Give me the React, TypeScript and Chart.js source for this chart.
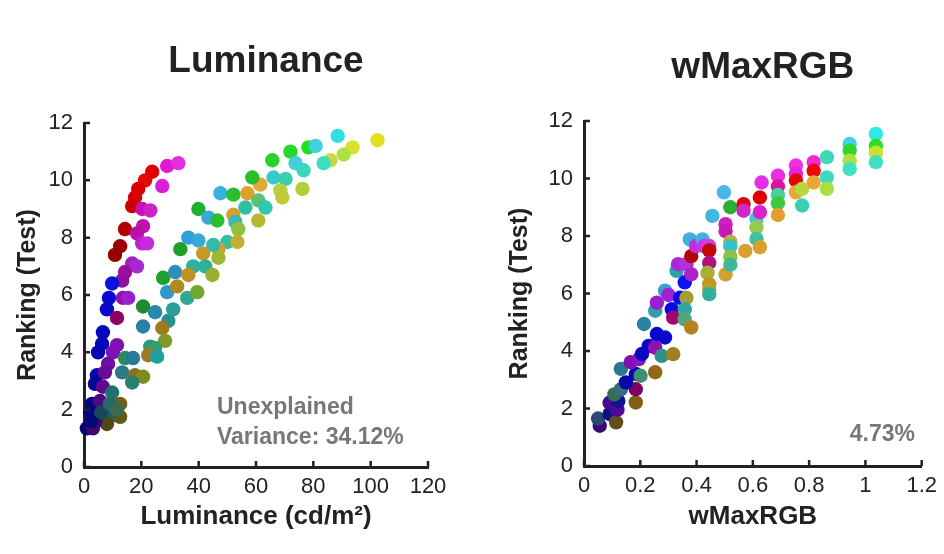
import { useEffect, useRef } from "react";
import Chart from "chart.js/auto";

Chart.defaults.font.family = "'Liberation Sans', Arial, Helvetica, sans-serif";

// ---- Luminance panel ----
const lumX = [
  29, 32.9, 23.8, 21.3, 27.3, 18.9, 17.8, 16.8, 20.3, 23.1, 20.6, 14.3, 18.5, 20.3, 22, 12.6, 10.8,
  16.8, 18.5, 14.3, 13.3, 9.8, 13.6, 15.4, 8.7, 8, 11.5, 6.6, 6.3, 11.5, 4.9, 10.1, 8.4, 4.5, 7.3,
  3.8, 6.6, 9.8, 2.8, 5.6, 12.6, 2.1, 10.1, 12.6, 1.0, 3.1, 8.0, 4, 2.5, 6, 9, 11.5,
  14.3, 17.1, 13.3, 17.8, 20.6, 16.8, 20.6, 24.8, 20.6, 29.4, 27.3, 28.3, 23.1, 24.8, 22.4, 25.5,
  27.6, 29, 31.8, 32.5, 31.1, 36, 39.5, 33.6, 36.4, 39.9, 41.6, 38.1, 36.4, 42.3, 44.8, 39.9, 43.4,
  46.5, 47.6, 52.1, 57.0, 61.5, 58.7, 56.3, 60.8, 63.3, 60.8, 52.1, 52.8, 53.8, 50, 53.5, 46.9,
  46.9, 45.1, 65.7, 72, 78.3, 80.8, 88.5, 102.4, 93.7, 90.6, 86, 83.6, 76.6, 73.8, 66.1, 70.3, 68.5,
  69.2, 76.2,
];
const lumY = [
  10.5, 10.6, 10.3, 10.0, 9.8, 9.7, 9.4, 9.1, 9.0, 8.95, 8.4, 8.3, 8.15, 7.8, 7.8, 7.7, 7.4,
  7.1, 7.0, 6.8, 6.5, 6.4, 5.9, 5.9, 5.9, 5.5, 5.2, 4.7, 4.3, 4.25, 4.0, 4.0, 3.6, 3.2, 3.3,
  2.9, 2.8, 2.6, 2.2, 2.3, 2.2, 1.9, 1.8, 1.75, 1.35, 1.35, 1.5, 1.6, 1.6, 1.9, 2.2, 2.0,
  3.8, 3.8, 3.3, 3.2, 3.15, 2.95, 5.6, 5.4, 4.9, 5.1, 4.85, 4.4, 4.2, 4.15, 3.9, 3.85,
  6.6, 6.1, 6.8, 6.3, 5.5, 5.9, 6.1, 7.6, 8.0, 7.9, 7.45, 7.0, 6.7, 7.0, 6.7, 9.0, 8.7,
  8.6, 9.55, 9.5, 9.55, 9.85, 10.1, 9.05, 9.3, 9.05, 8.6, 8.8, 8.55, 8.3, 7.85, 7.85, 7.6,
  7.3, 7.75, 10.7, 11.0, 11.15, 11.2, 11.55, 11.4, 11.15, 10.9, 10.7, 10.6, 10.35, 10.6, 10.1, 10.05, 9.65,
  9.4, 9.7,
];
const lumColors = [
  "#e01ad0", "#e030e0", "#e00000", "#e40808", "#d820d8", "#dd0000", "#d80000", "#cc0000", "#c810b8",
  "#d020c8", "#c010b0", "#b00000", "#b810a8", "#c020d0", "#c828e0", "#a00000", "#980000",
  "#a020c0", "#a828d0", "#a010a0", "#9010a0", "#0a10e0", "#9010b8", "#9a20c8", "#0808d0", "#0808c8",
  "#900060", "#0808c0", "#0606b8", "#8010b0", "#0808b0", "#8010b8", "#7010a0", "#0606a8", "#6a0898",
  "#05059a", "#600890", "#207070", "#040488", "#500880", "#706020", "#040480", "#206068", "#605818",
  "#040470", "#400870", "#504818", "#3a0870", "#060678", "#184858", "#286868", "#3a6a50",
  "#2a8a60", "#2a7a9a", "#2a7a8a", "#8a7020", "#808a20", "#2a8070", "#208a30", "#2a88aa", "#2a80a8",
  "#2a9090", "#a07820", "#809828", "#2a9a70", "#30a070", "#a07a20", "#20a0a0",
  "#20a030", "#3098c8", "#3090b8", "#b08a20", "#28a098", "#30a890", "#70a830", "#20a028", "#30a0d8",
  "#38a8d8", "#c89828", "#30b0a0", "#c09020", "#30b098", "#98b030", "#20b030", "#38a8e0",
  "#28c030", "#38b0e0", "#28c030", "#e0a030", "#e0a838", "#28c028", "#30c0a0", "#60c070", "#30c8b0",
  "#b8b830", "#d8a030", "#40b8b0", "#90c040", "#30c0a0", "#c0b030", "#d8a030",
  "#a0b830", "#38b8a8", "#28d030", "#28d830", "#20e020", "#40d0e0", "#30e0e0", "#e0e020", "#d8e030",
  "#b0e040", "#c8d840", "#38e0c0", "#38d8c0", "#40d0d8", "#38c8d0", "#38d0b0", "#b8d040",
  "#c0c838", "#b0d038",
];

// ---- wMaxRGB panel ----
const wmX = [
  0.056, 0.05, 0.091, 0.114, 0.119, 0.091, 0.122, 0.108, 0.131, 0.184, 0.184, 0.149, 0.131, 0.184,
  0.201, 0.166, 0.195, 0.206, 0.253, 0.23, 0.253, 0.276, 0.259, 0.288, 0.317, 0.213, 0.253, 0.259,
  0.288, 0.3, 0.312, 0.317, 0.341, 0.364, 0.358, 0.358, 0.381, 0.329, 0.334, 0.364, 0.358, 0.381,
  0.381, 0.376, 0.398, 0.421, 0.427, 0.445, 0.445, 0.445, 0.439, 0.445, 0.445, 0.445, 0.456, 0.497,
  0.52, 0.503, 0.503, 0.503, 0.52, 0.52, 0.52, 0.52, 0.567, 0.567, 0.573, 0.613, 0.613, 0.613,
  0.625, 0.625, 0.625, 0.631, 0.689, 0.689, 0.689, 0.689, 0.689, 0.753, 0.753, 0.753, 0.753, 0.775,
  0.775, 0.816, 0.816, 0.816, 0.863, 0.863, 0.863, 0.944, 0.944, 0.944, 0.944, 1.037, 1.037, 1.037,
  1.037,
];
const wmY = [
  1.4, 1.65, 1.81, 1.52, 1.96, 2.2, 2.26, 2.49, 2.67, 2.21, 2.67, 2.91, 3.38, 3.2,
  3.14, 3.61, 3.72, 3.9, 3.26, 4.18, 4.12, 3.83, 4.59, 4.47, 3.89, 4.94, 5.4, 5.68,
  6.1, 5.95, 5.45, 5.16, 5.85, 5.85, 5.45, 5.1, 4.82, 6.79, 7.02, 7.02, 6.39, 6.67,
  7.3, 7.88, 7.65, 7.88, 7.65, 7.65, 7.5, 7.07, 6.72, 6.32, 6.15, 5.98, 8.7, 9.52,
  9.0, 8.41, 8.17, 6.66, 7.8, 7.64, 7.28, 7.0, 9.11, 8.88, 7.48, 8.6, 8.3, 7.9,
  7.61, 9.34, 8.83, 9.86, 10.1, 9.72, 9.43, 9.14, 8.73, 10.45, 10.16, 9.93, 9.52, 9.64,
  9.06, 10.57, 10.27, 9.86, 10.74, 10.04, 9.64, 11.2, 10.97, 10.62, 10.33, 11.55, 11.14, 10.9,
  10.57,
];
const wmColors = [
  "#3a0870", "#2a4878", "#101088", "#605020", "#500898", "#4a0890", "#101098", "#307050", "#3a6a80",
  "#806018", "#800060", "#0808a8", "#2a7890", "#0808b8", "#409070", "#8010b0", "#8818b8", "#0808c0",
  "#906818", "#0808c8", "#9010b0", "#309088", "#0808d0", "#0808d0", "#a08020", "#2a80a0", "#30a0a8",
  "#9a20d0", "#38a0c8", "#a020d8", "#0808e0", "#a00870", "#0a0ae8", "#a0a030", "#30a8a0", "#50a878",
  "#b88020", "#30a0b0", "#a828d8", "#b030e0", "#1010f0", "#b020c8", "#b00808", "#40b0d8", "#c030e0",
  "#40b0e0", "#c838e8", "#d040d8", "#c00808", "#b01080", "#a8b030", "#c89020", "#b8a030", "#30b098",
  "#40b8e0", "#48b8e8", "#28b030", "#d020c0", "#c818b8", "#d0a030", "#b8b038", "#38c0c8", "#90c048",
  "#40b898", "#d80808", "#d028c8", "#d8a030", "#40c8d0", "#98c850", "#40c0a0", "#d8a030", "#e00000",
  "#e020d0", "#e030e8", "#e830e0", "#e010a0", "#48d0a0", "#40c840", "#e0a030", "#f030e8", "#e820e0",
  "#e00808", "#e8a838", "#b8d840", "#38d0b0", "#f028d0", "#f00808", "#e8a838", "#40d8b8", "#40d8c0",
  "#a8e040", "#40d0e8", "#30d830", "#b0e040", "#40e0c0", "#30e8e8", "#28e028", "#c8e030", "#40e0c0",
];

const lumTicksX = [0, 20, 40, 60, 80, 100, 120];
const wmTicksX = [0, 0.2, 0.4, 0.6, 0.8, 1, 1.2];
const rankTicks = [0, 2, 4, 6, 8, 10, 12];

const INK = "#222222";
const NOTE = "#777777";

interface PanelProps {
  title: string;
  xTitle: string;
  xs: number[];
  ys: number[];
  colors: string[];
  xTicks: number[];
  note: string[];
  noteX: number;
  noteY: number;
  noteAlign: CanvasTextAlign;
  titleTop: number;
  titleBottom: number;
  yWidth: number;
  yTitlePad: number;
  xHeight: number;
  rightPad: number;
}

const Panel: React.FC<PanelProps> = (p) => {
  const canvasRef = useRef<HTMLCanvasElement | null>(null);
  const chartRef = useRef<Chart | null>(null);

  useEffect(() => {
    if (!canvasRef.current) return;
    if (chartRef.current) chartRef.current.destroy();

    const xMax = p.xTicks[p.xTicks.length - 1];
    const step = p.xTicks[1] - p.xTicks[0];

    // MATLAB-style inward tick marks + the grey variance note
    const inwardTicks = {
      id: "inwardTicks",
      afterLayout(chart: Chart) {
        // title sits a little right of the plot centre in the original
        const tb = (chart as any).titleBlock;
        if (tb) {
          tb.left += 10;
          tb.right += 10;
        }
      },
      afterDraw(chart: Chart) {
        const { ctx, chartArea } = chart;
        const sx = chart.scales.x;
        const sy = chart.scales.y;
        ctx.save();
        ctx.strokeStyle = INK;
        ctx.lineWidth = 2.5;
        ctx.beginPath();
        p.xTicks.forEach((t) => {
          const px = sx.getPixelForValue(t);
          ctx.moveTo(px, chartArea.bottom);
          ctx.lineTo(px, chartArea.bottom - 6);
        });
        rankTicks.forEach((t) => {
          const py = sy.getPixelForValue(t);
          ctx.moveTo(chartArea.left, py);
          ctx.lineTo(chartArea.left + 6, py);
        });
        ctx.stroke();

        ctx.fillStyle = NOTE;
        ctx.font = "bold 23px 'Liberation Sans', Arial, sans-serif";
        ctx.textAlign = p.noteAlign;
        ctx.textBaseline = "middle";
        p.note.forEach((line, i) => {
          ctx.fillText(line, p.noteX, p.noteY + i * 30);
        });
        ctx.restore();
      },
    };

    chartRef.current = new Chart(canvasRef.current, {
      type: "scatter",
      data: {
        datasets: [
          {
            data: p.xs.map((x, i) => ({ x, y: p.ys[i] })),
            pointBackgroundColor: p.colors,
            pointBorderWidth: 0,
            pointRadius: 7.2,
            clip: false,
          },
        ],
      },
      options: {
        responsive: false,
        animation: false,
        layout: { padding: { left: 0, right: p.rightPad, top: 0, bottom: 0 } },
        plugins: {
          legend: { display: false },
          tooltip: { enabled: false },
          title: {
            display: true,
            fullSize: false,
            text: p.title,
            color: INK,
            font: { size: 37, weight: "bold", lineHeight: 1.2 },
            padding: { top: p.titleTop, bottom: p.titleBottom },
          },
        },
        scales: {
          x: {
            type: "linear",
            min: 0,
            max: xMax,
            afterBuildTicks: (s) => {
              s.ticks = p.xTicks.map((v) => ({ value: v }));
            },
            afterFit: (s) => {
              s.height = p.xHeight;
            },
            ticks: {
              stepSize: step,
              color: INK,
              font: { size: 22 },
              padding: 7,
              maxRotation: 0,
              callback: (v) => String(Number(Number(v).toFixed(1))),
            },
            grid: { display: false, drawTicks: false },
            border: { display: true, width: 3, color: INK },
            title: {
              display: true,
              text: p.xTitle,
              color: INK,
              font: { size: 26, weight: "bold", lineHeight: 1.2 },
              padding: { top: 0, bottom: 22 },
            },
          },
          y: {
            type: "linear",
            min: 0,
            max: 12,
            afterBuildTicks: (s) => {
              s.ticks = rankTicks.map((v) => ({ value: v }));
            },
            afterFit: (s) => {
              s.width = p.yWidth;
            },
            ticks: { stepSize: 2, color: INK, font: { size: 22 }, padding: 11 },
            grid: { display: false, drawTicks: false },
            border: { display: true, width: 3, color: INK },
            title: {
              display: true,
              text: "Ranking (Test)",
              color: INK,
              font: { size: 25, weight: "bold", lineHeight: 1.2 },
              padding: { top: p.yTitlePad, bottom: 0 },
            },
          },
        },
      },
      plugins: [inwardTicks],
    });

    return () => {
      if (chartRef.current) {
        chartRef.current.destroy();
        chartRef.current = null;
      }
    };
  }, [p]);

  return <canvas ref={canvasRef} width={472} height={554} />;
};

const lumPanel: PanelProps = {
  title: "Luminance",
  xTitle: "Luminance (cd/m²)",
  xs: lumX,
  ys: lumY,
  colors: lumColors,
  xTicks: lumTicksX,
  note: ["Unexplained", "Variance: 34.12%"],
  noteX: 217,
  noteY: 408,
  noteAlign: "left",
  titleTop: 40,
  titleBottom: 38.6,
  yWidth: 84,
  yTitlePad: 13,
  xHeight: 87,
  rightPad: 44,
};

const wmPanel: PanelProps = {
  title: "wMaxRGB",
  xTitle: "wMaxRGB",
  xs: wmX,
  ys: wmY,
  colors: wmColors,
  xTicks: wmTicksX,
  note: ["4.73%"],
  noteX: 443,
  noteY: 435,
  noteAlign: "right",
  titleTop: 46,
  titleBottom: 30.6,
  yWidth: 112,
  yTitlePad: 33,
  xHeight: 88,
  rightPad: 15,
};

export default function App() {
  return (
    <div style={{ position: "absolute", left: 0, top: 0, width: 944, height: 554, background: "#fff" }}>
      <div style={{ position: "absolute", left: 0, top: 0 }}>
        <Panel {...lumPanel} />
      </div>
      <div style={{ position: "absolute", left: 472, top: 0 }}>
        <Panel {...wmPanel} />
      </div>
    </div>
  );
}
